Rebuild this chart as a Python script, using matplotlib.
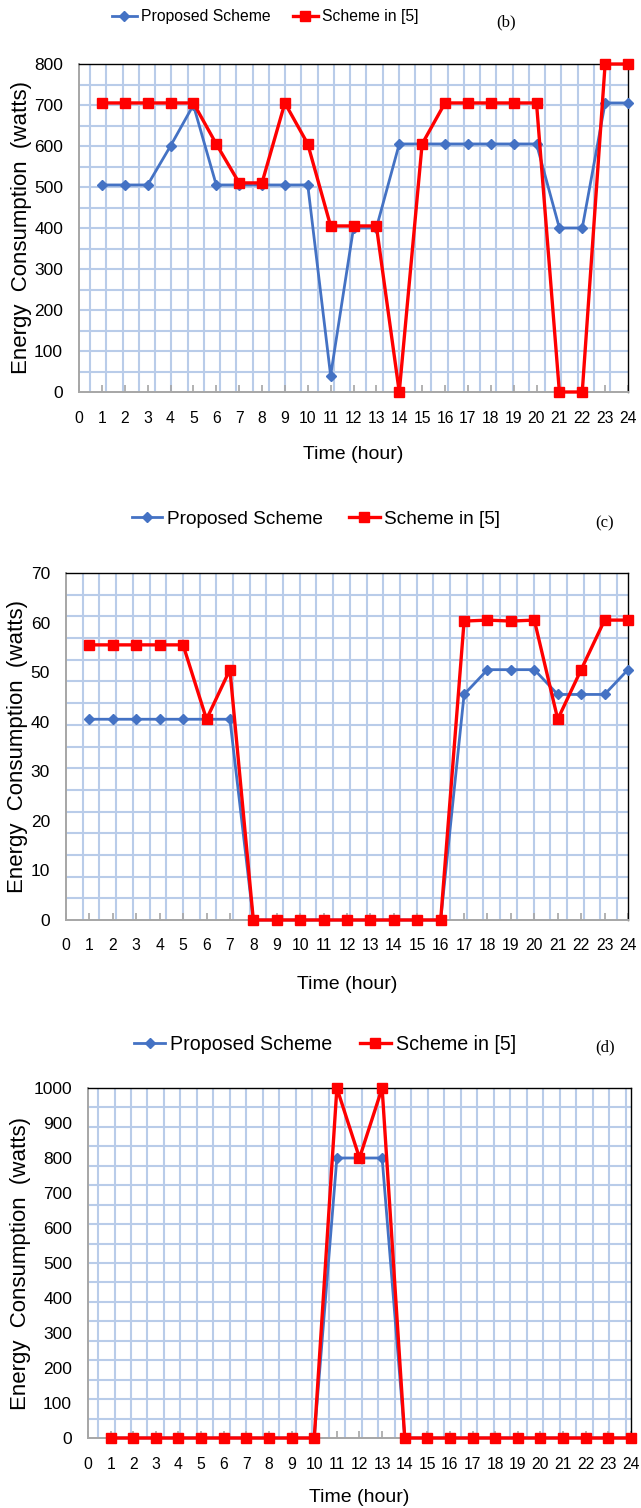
import matplotlib
matplotlib.use('Agg')
import matplotlib.pyplot as plt
from matplotlib import font_manager
from matplotlib.lines import Line2D
import numpy as np

# hourly energy use, three appliances
hours = list(range(1, 25))

b_proposed = [505, 505, 505, 600, 700, 505, 505, 505, 505, 505, 40, 400,
              400, 605, 605, 605, 605, 605, 605, 605, 400, 400, 705, 705]
b_scheme5 = [705, 705, 705, 705, 705, 605, 510, 510, 705, 605, 405, 405,
             405, 0, 605, 705, 705, 705, 705, 705, 0, 0, 800, 800]

c_proposed = [40.5, 40.5, 40.5, 40.5, 40.5, 40.5, 40.5, 0, 0, 0, 0, 0,
              0, 0, 0, 0, 45.5, 50.5, 50.5, 50.5, 45.5, 45.5, 45.5, 50.5]
c_scheme5 = [55.5, 55.5, 55.5, 55.5, 55.5, 40.5, 50.5, 0, 0, 0, 0, 0,
             0, 0, 0, 0, 60.3, 60.5, 60.3, 60.5, 40.5, 50.5, 60.5, 60.5]

d_proposed = [0, 0, 0, 0, 0, 0, 0, 0, 0, 0, 800, 800,
              800, 0, 0, 0, 0, 0, 0, 0, 0, 0, 0, 0]
d_scheme5 = [0, 0, 0, 0, 0, 0, 0, 0, 0, 0, 1000, 800,
             1000, 0, 0, 0, 0, 0, 0, 0, 0, 0, 0, 0]

W, H = 641, 1508
BLUE = '#4472C4'
RED = '#FF0000'
GRID = '#b9cce9'


def narrow_font():
    try:
        font_manager.findfont(font_manager.FontProperties(family='Liberation Sans Narrow'),
                              fallback_to_default=False)
        return 'Liberation Sans Narrow', 1.0
    except ValueError:
        return 'Liberation Sans', 0.84


NARROW, NS = narrow_font()


def px_rect(left, top, right, bottom):
    return [left / W, 1 - bottom / H, (right - left) / W, (bottom - top) / H]


def draw_panel(fig, box, proposed, scheme5, ymax, ystep, grid, ylab_x, xlab_y, xpad,
               leg_xy, leg_size, tag, tag_xy):
    ax = fig.add_axes(px_rect(*box))
    width_px = box[2] - box[0]
    ax.set_xlim(0, 24)
    ax.set_ylim(0, ymax)

    # graph-paper background
    sp, off, ny = grid
    x = off
    while x < width_px - 2:
        ax.axvline(x / width_px * 24, color=GRID, lw=1.5, zorder=0)
        x += sp
    for k in range(1, ny):
        ax.axhline(k / ny * ymax, color=GRID, lw=1.5, zorder=0)

    ax.plot(hours, proposed, color=BLUE, lw=2.0, marker='D', ms=5,
            clip_on=False, zorder=3)
    ax.plot(hours, scheme5, color=RED, lw=2.4, marker='s', ms=7.5,
            clip_on=False, zorder=4)

    for side in ('top', 'right'):
        ax.spines[side].set_color('black')
        ax.spines[side].set_linewidth(1.0)
    for side in ('left', 'bottom'):
        ax.spines[side].set_color('#a6a6a6')
        ax.spines[side].set_linewidth(1.4)

    ax.set_xticks(range(25))
    ax.set_xticklabels([str(h) for h in range(25)], family=NARROW, fontsize=13.5 * NS)
    ax.tick_params(axis='x', direction='in', length=5, width=1.2, color='#a6a6a6', pad=xpad)
    ax.set_yticks(np.arange(0, ymax + 1, ystep))
    ax.tick_params(axis='y', length=0, pad=11.5, labelsize=12.5)
    for lbl in ax.get_yticklabels():
        lbl.set_family('Liberation Sans')

    ax.set_ylabel('Energy  Consumption  (watts)', fontsize=16, family='Liberation Sans',
                  va='center')
    ax.yaxis.set_label_coords(ylab_x, 0.5)
    ax.set_xlabel('Time (hour)', fontsize=14, family='Liberation Sans', va='center')
    ax.xaxis.set_label_coords(0.5, xlab_y)

    handles = [Line2D([], [], color=BLUE, lw=2.0, marker='D', ms=5),
               Line2D([], [], color=RED, lw=2.4, marker='s', ms=7.5)]
    fig.legend(handles, ['Proposed Scheme', 'Scheme in [5]'], loc='center',
               bbox_to_anchor=(leg_xy[0] / W, 1 - leg_xy[1] / H), ncol=2, frameon=False,
               prop={'family': NARROW, 'size': leg_size * NS},
               handlelength=1.6, handletextpad=0.25, columnspacing=1.4)
    fig.text(tag_xy[0] / W, 1 - tag_xy[1] / H, tag, family='Liberation Serif',
             fontsize=12, ha='center', va='center')
    return ax


fig = plt.figure(figsize=(W / 100, H / 100), dpi=100)

draw_panel(fig, (79, 64, 628, 392), b_proposed, b_scheme5, 800, 100,
           (16.25, 11, 16), -0.105, -0.192, 14,
           (265, 17), 13.5, '(b)', (506, 22))
draw_panel(fig, (66, 573, 628, 920), c_proposed, c_scheme5, 70, 10,
           (16.7, 16.7, 16), -0.086, -0.187, 13,
           (316, 519), 16.3, '(c)', (605, 523))
draw_panel(fig, (88, 1088, 631, 1438), d_proposed, d_scheme5, 1000, 100,
           (16.5, 10, 18), -0.125, -0.169, 14,
           (325, 1044), 16.8, '(d)', (605, 1047))

fig.savefig('out.png', dpi=100)
